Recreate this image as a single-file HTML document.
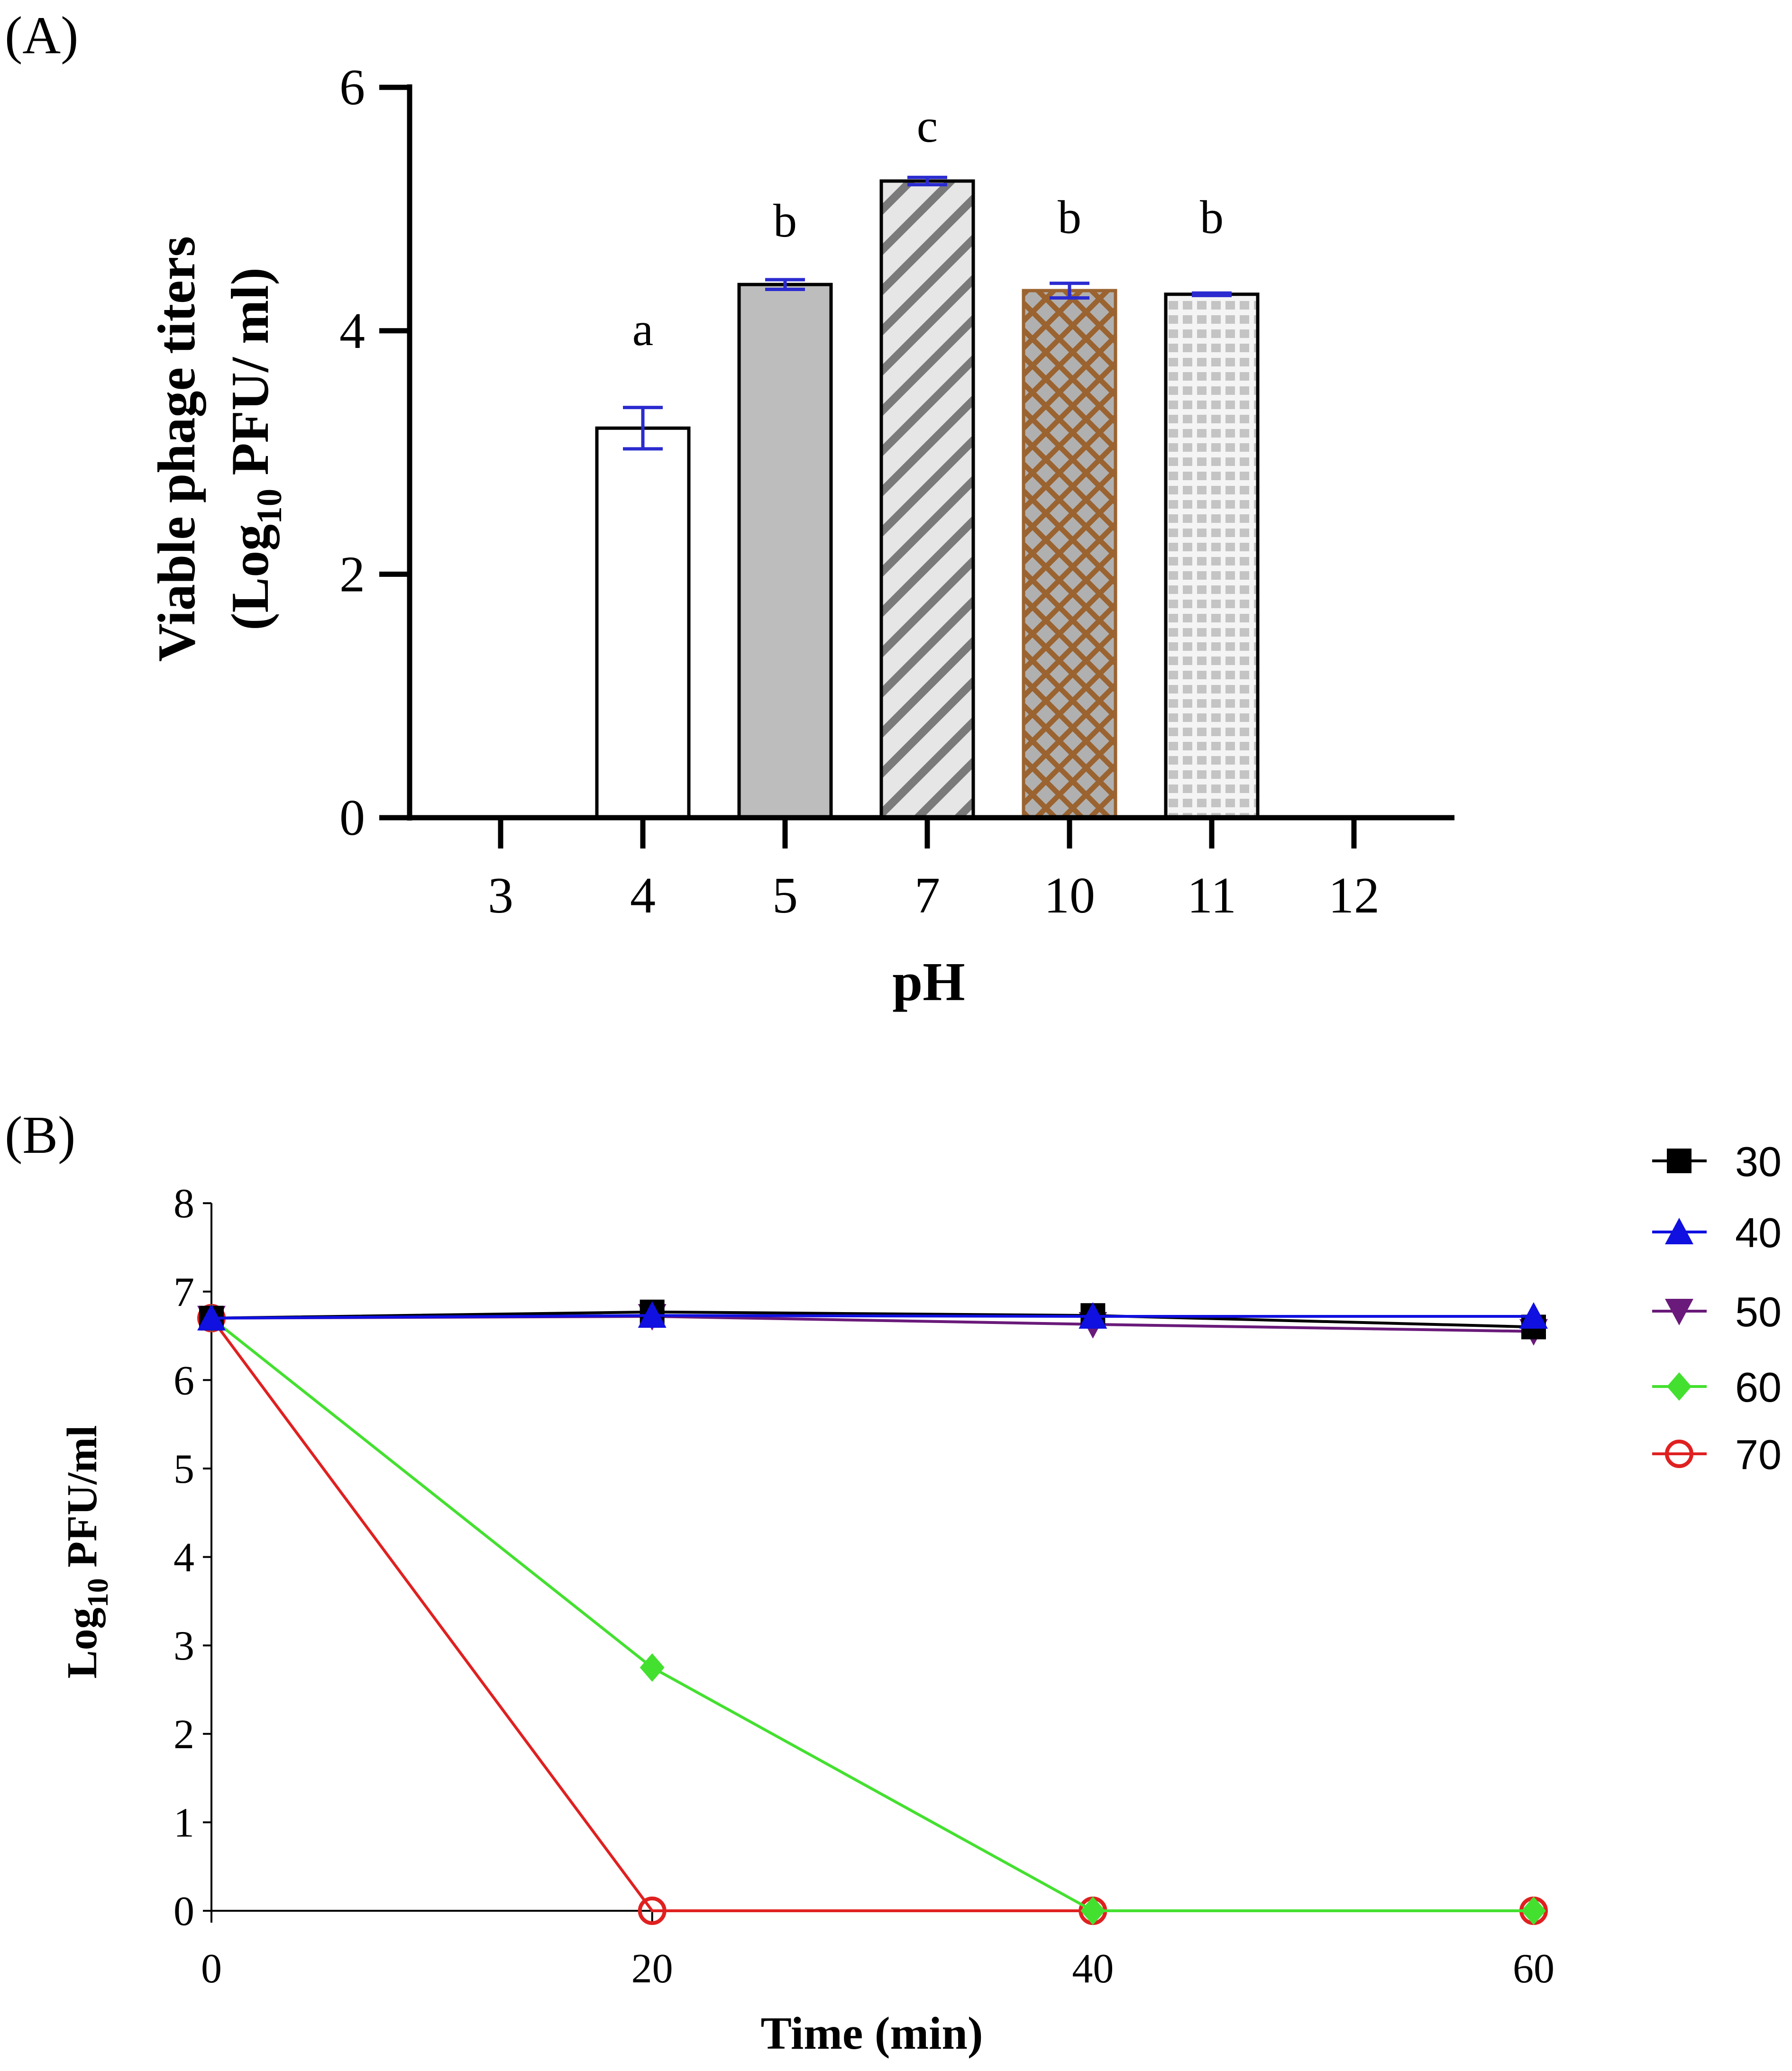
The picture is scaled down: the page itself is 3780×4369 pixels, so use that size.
<!DOCTYPE html>
<html><head><meta charset="utf-8"><style>
html,body{margin:0;padding:0;background:#fff}
svg{display:block}
</style></head><body>
<svg id="fig" width="3780" height="4369" viewBox="0 0 3780 4369" xmlns="http://www.w3.org/2000/svg">
<defs>
<pattern id="pDiag" patternUnits="userSpaceOnUse" width="60" height="60" patternTransform="rotate(45)">
<rect width="60" height="60" fill="#e6e6e6"/><rect x="0" y="0" width="17" height="60" fill="#7a7a7a"/></pattern>
<pattern id="pCross" patternUnits="userSpaceOnUse" width="40" height="40" patternTransform="rotate(45)">
<rect width="40" height="40" fill="#b0b0b0"/><rect x="0" y="0" width="11" height="40" fill="#9a6330"/><rect x="0" y="0" width="40" height="11" fill="#9a6330"/></pattern>
<pattern id="pGrid" patternUnits="userSpaceOnUse" width="30" height="30">
<rect width="30" height="30" fill="#f4f4f4"/><rect x="5" y="5" width="20" height="18" fill="#c4c4c4"/></pattern>
</defs>
<g id="panelA"></g>
<g id="panelB"></g>
</svg>
<script>
// Panel A data
const phCats = ["3","4","5","7","10","11","12"];
const phMeans = [null, 3.2, 4.38, 5.23, 4.33, 4.3, null];
const phErr = [null, 0.17, 0.04, 0.03, 0.06, 0.01, null];
const phLetters = [null, "a", "b", "c", "b", "b", null];
const phLetterY = [null, 4.0, 4.89, 5.67, 4.92, 4.92, null];
const aTicks = [0, 2, 4, 6];
// Panel B data
const timeCats = [0, 20, 40, 60];
const bTicks = [0,1,2,3,4,5,6,7,8];
const s30 = [6.7, 6.77, 6.73, 6.6];
const s40 = [6.7, 6.73, 6.72, 6.72];
const s50 = [6.7, 6.72, 6.63, 6.55];
const s60 = [6.7, 2.75, 0, 0];
const s70 = [6.7, 0, 0, 0];
const seriesNames = ["30","40","50","60","70"];

const NS="http://www.w3.org/2000/svg";
function mk(parent, tag, attrs, text){
  const e=document.createElementNS(NS,tag);
  for(const k in attrs) e.setAttribute(k, attrs[k]);
  if(text!==undefined) e.textContent=text;
  parent.appendChild(e); return e;
}
const serif='"Liberation Serif", serif', sans='"Liberation Sans", sans-serif';

// ---------- Panel A ----------
const A=document.getElementById('panelA');
const ay=v=>1725-v*256.8;
const ax=i=>1056+i*300;
let t=mk(A,'text',{x:10,y:112,'font-family':serif,'font-size':112},'(A)');


const fills=[null,'#ffffff','#bdbdbd','url(#pDiag)','url(#pCross)','url(#pGrid)',null];
phCats.forEach((c,i)=>{
  if(phMeans[i]!==null){
    const r=mk(A,'rect',{x:ax(i)-97,y:ay(phMeans[i]),width:194,height:ay(0)-ay(phMeans[i]),fill:fills[i],stroke:i===4?'#9a6330':'#000','stroke-width':7});
    
    
    const g=mk(A,'g',{stroke:'#2b2bd0','stroke-width':7,fill:'none'});
    
    
    const hi=ay(phMeans[i]+phErr[i]), lo=ay(phMeans[i]-phErr[i]);
    mk(g,'line',{x1:ax(i),x2:ax(i),y1:hi,y2:lo});
    mk(g,'line',{x1:ax(i)-42,x2:ax(i)+42,y1:hi,y2:hi});
    mk(g,'line',{x1:ax(i)-42,x2:ax(i)+42,y1:lo,y2:lo});
    const l=mk(A,'text',{x:ax(i),y:ay(phLetterY[i])+30,'text-anchor':'middle','font-family':serif,'font-size':100},phLetters[i]);
    
    
  }
  const tk=mk(A,'line',{x1:ax(i),x2:ax(i),y1:ay(0),y2:1790,stroke:'#000','stroke-width':11});
  
  
  const tl=mk(A,'text',{x:ax(i),y:1925,'text-anchor':'middle','font-family':serif,'font-size':108},c);
  
  
});
let axl=mk(A,'line',{x1:864,x2:864,y1:178,y2:1731,stroke:'#000','stroke-width':11});


axl=mk(A,'line',{x1:858,x2:3068,y1:1725,y2:1725,stroke:'#000','stroke-width':11});


aTicks.forEach(v=>{
  const k=mk(A,'line',{x1:800,x2:864,y1:ay(v),y2:ay(v),stroke:'#000','stroke-width':11});
  
  
  const l=mk(A,'text',{x:770,y:ay(v)+36,'text-anchor':'end','font-family':serif,'font-size':108},String(v));
  
  
});
t=mk(A,'text',{x:1959,y:2110,'text-anchor':'middle','font-family':serif,'font-size':115,'font-weight':'bold'},'pH');


const yt=mk(A,'text',{transform:'translate(410,947) rotate(-90)','text-anchor':'middle','font-family':serif,'font-size':112,'font-weight':'bold'},'Viable phage titers');


const yt2=mk(A,'text',{transform:'translate(565,947) rotate(-90)','text-anchor':'middle','font-family':serif,'font-size':112,'font-weight':'bold'});


mk(yt2,'tspan',{},'(Log');
mk(yt2,'tspan',{'font-size':75,dy:28},'10');
mk(yt2,'tspan',{dy:-28},' PFU/ ml)');

// ---------- Panel B ----------
const B=document.getElementById('panelB');
const bx=v=>446+v*(3235-446)/60;
const by=v=>4031-v*186.6;
t=mk(B,'text',{x:10,y:2432,'font-family':serif,'font-size':112},'(B)');


axl=mk(B,'line',{x1:446,x2:446,y1:by(8),y2:by(0)+25,stroke:'#000','stroke-width':4});


axl=mk(B,'line',{x1:446,x2:3235,y1:by(0),y2:by(0),stroke:'#000','stroke-width':4});


bTicks.forEach(v=>{
  const k=mk(B,'line',{x1:428,x2:446,y1:by(v),y2:by(v),stroke:'#000','stroke-width':4});
  
  
  const l=mk(B,'text',{x:410,y:by(v)+30,'text-anchor':'end','font-family':serif,'font-size':88},String(v));
  
  
});
timeCats.forEach(v=>{
  const k=mk(B,'line',{x1:bx(v),x2:bx(v),y1:by(0),y2:by(0)+25,stroke:'#000','stroke-width':4});
  
  
  const l=mk(B,'text',{x:bx(v),y:4182,'text-anchor':'middle','font-family':serif,'font-size':88},String(v));
  
  
});
t=mk(B,'text',{x:1839,y:4322,'text-anchor':'middle','font-family':serif,'font-size':98,'font-weight':'bold'},'Time (min)');


const byt=mk(B,'text',{transform:'translate(203,3274) rotate(-90)','text-anchor':'middle','font-family':serif,'font-size':90,'font-weight':'bold'});


mk(byt,'tspan',{},'Log');
mk(byt,'tspan',{'font-size':62,dy:24},'10');
mk(byt,'tspan',{dy:-24},' PFU/ml');

const allS=[s30,s40,s50,s60,s70];
const colors=['#000000','#1010e0','#6a1a7a','#44e030','#e02020'];
function marker(g,type,x,y,col){
  const s=26;
  if(type===0) mk(g,'rect',{x:x-s,y:y-s,width:2*s,height:2*s,fill:col});
  else if(type===1) mk(g,'polygon',{points:`${x},${y-s-4} ${x+s+4},${y+s} ${x-s-4},${y+s}`,fill:col});
  else if(type===2) mk(g,'polygon',{points:`${x},${y+s+4} ${x+s+4},${y-s} ${x-s-4},${y-s}`,fill:col});
  else if(type===3) mk(g,'polygon',{points:`${x},${y-s-4} ${x+s},${y} ${x},${y+s+4} ${x-s},${y}`,fill:col});
  else mk(g,'circle',{cx:x,cy:y,r:s,fill:'none',stroke:col,'stroke-width':8});
}
const order=[4,3,2,0,1];
order.forEach(si=>{
  const g=mk(B,'g',{});
  
  
  const pts=allS[si].map((v,i)=>bx(timeCats[i])+','+by(v)).join(' ');
  const pl=mk(g,'polyline',{points:pts,fill:'none',stroke:colors[si],'stroke-width':6});
  
  
  allS[si].forEach((v,i)=>marker(g,si,bx(timeCats[i]),by(v),colors[si]));
});
const legY=[2449,2599,2766,2925,3067];
seriesNames.forEach((n,i)=>{
  const g=mk(B,'g',{});
  
  
  mk(g,'line',{x1:3485,x2:3600,y1:legY[i],y2:legY[i],stroke:colors[i],'stroke-width':6});
  marker(g,i,3542,legY[i],colors[i]);
  mk(g,'text',{x:3660,y:legY[i]+32,'font-family':sans,'font-size':88},n);
});
</script>
</body></html>
